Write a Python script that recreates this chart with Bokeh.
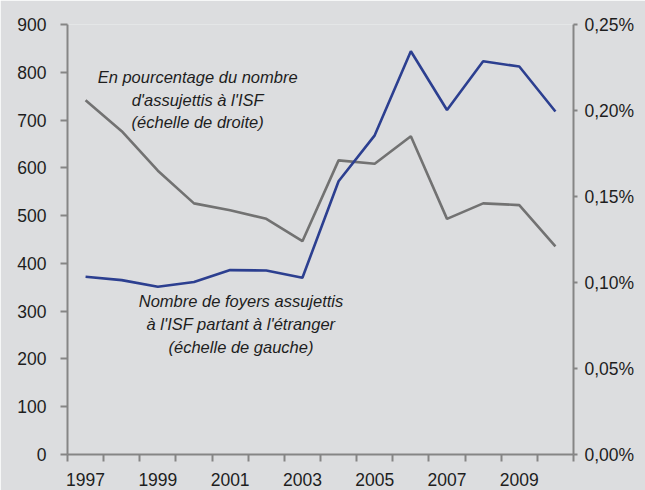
from bokeh.plotting import figure
from bokeh.models import Range1d, LinearAxis, FixedTicker, CustomJSTickFormatter, ColumnDataSource
from bokeh.core.properties import value
from bokeh.embed import file_html
from bokeh.resources import INLINE

years = list(range(1997, 2011))
foyers = [372, 365, 351, 361, 386, 385, 370, 572, 668, 844, 721, 823, 812, 718]
pourcentage = [0.206, 0.188, 0.165, 0.146, 0.142, 0.137, 0.124, 0.171, 0.169, 0.185, 0.137, 0.146, 0.145, 0.121]
x_labels = [1997, 1999, 2001, 2003, 2005, 2007, 2009]
left_ticks = list(range(0, 901, 100))
right_ticks = [0.0, 0.05, 0.10, 0.15, 0.20, 0.25]

note_top = ["En pourcentage du nombre", "d'assujettis à l'ISF", "(échelle de droite)"]
note_bottom = ["Nombre de foyers assujettis", "à l'ISF partant à l'étranger", "(échelle de gauche)"]

BG = "#dcdddf"
AX = "#858585"
TXT = "#1e1e1e"
FONT = "Liberation Sans"

p = figure(width=645, height=490, output_backend="svg", toolbar_location=None,
           x_range=Range1d(1996.5, 2010.5), y_range=Range1d(0, 900),
           min_border_left=67, min_border_right=72, min_border_top=24, min_border_bottom=36)
p.extra_y_ranges = {"pct": Range1d(0, 0.25)}
p.background_fill_color = BG
p.border_fill_color = BG
p.outline_line_color = None
p.grid.visible = False

# x axis
xa = p.xaxis[0]
xa.ticker = FixedTicker(ticks=x_labels, minor_ticks=[y - 0.5 for y in years] + [2010.5])
xa.major_tick_out = 0
xa.major_tick_in = 0
xa.minor_tick_out = 7
xa.minor_tick_in = 0
xa.minor_tick_line_color = AX
xa.minor_tick_line_width = 2
xa.axis_line_color = AX
xa.axis_line_width = 2
xa.major_label_standoff = 11
xa.major_label_text_font = FONT
xa.major_label_text_font_size = "17.5px"
xa.major_label_text_color = TXT

# left axis
ya = p.yaxis[0]
ya.ticker = FixedTicker(ticks=left_ticks)
ya.major_tick_out = 7
ya.major_tick_in = 0
ya.minor_tick_out = 0
ya.minor_tick_in = 0
ya.major_tick_line_color = AX
ya.major_tick_line_width = 2
ya.axis_line_color = AX
ya.axis_line_width = 2
ya.major_label_standoff = 14
ya.major_label_text_font = FONT
ya.major_label_text_font_size = "17.5px"
ya.major_label_text_color = TXT

# right axis
ra = LinearAxis(y_range_name="pct", ticker=FixedTicker(ticks=right_ticks),
                formatter=CustomJSTickFormatter(code="return tick.toFixed(2).replace('.', ',') + '%';"))
ra.major_tick_out = 4
ra.major_tick_in = 0
ra.minor_tick_out = 0
ra.minor_tick_in = 0
ra.major_tick_line_color = AX
ra.major_tick_line_width = 2
ra.axis_line_color = AX
ra.axis_line_width = 2
ra.major_label_standoff = 7
ra.major_label_text_font = FONT
ra.major_label_text_font_size = "17.5px"
ra.major_label_text_color = TXT
p.add_layout(ra, "right")

src = ColumnDataSource(dict(x=years, f=foyers, pct=pourcentage))
p.line("x", "pct", source=src, y_range_name="pct", line_color="#727272", line_width=2.6)
p.line("x", "f", source=src, line_color="#2c3f90", line_width=2.6)

# annotations (data coords on left scale)
p.text(x=[2000.1] * 3, y=[791, 743, 695], text=note_top,
       text_font=value(FONT), text_font_style="italic", text_font_size="16.5px",
       text_color=TXT, text_align="center", text_baseline="middle")
p.text(x=[2001.3] * 3, y=[322, 274, 226], text=note_bottom,
       text_font=value(FONT), text_font_style="italic", text_font_size="16.5px",
       text_color=TXT, text_align="center", text_baseline="middle")

open("out.html", "w").write(file_html(p, INLINE))
